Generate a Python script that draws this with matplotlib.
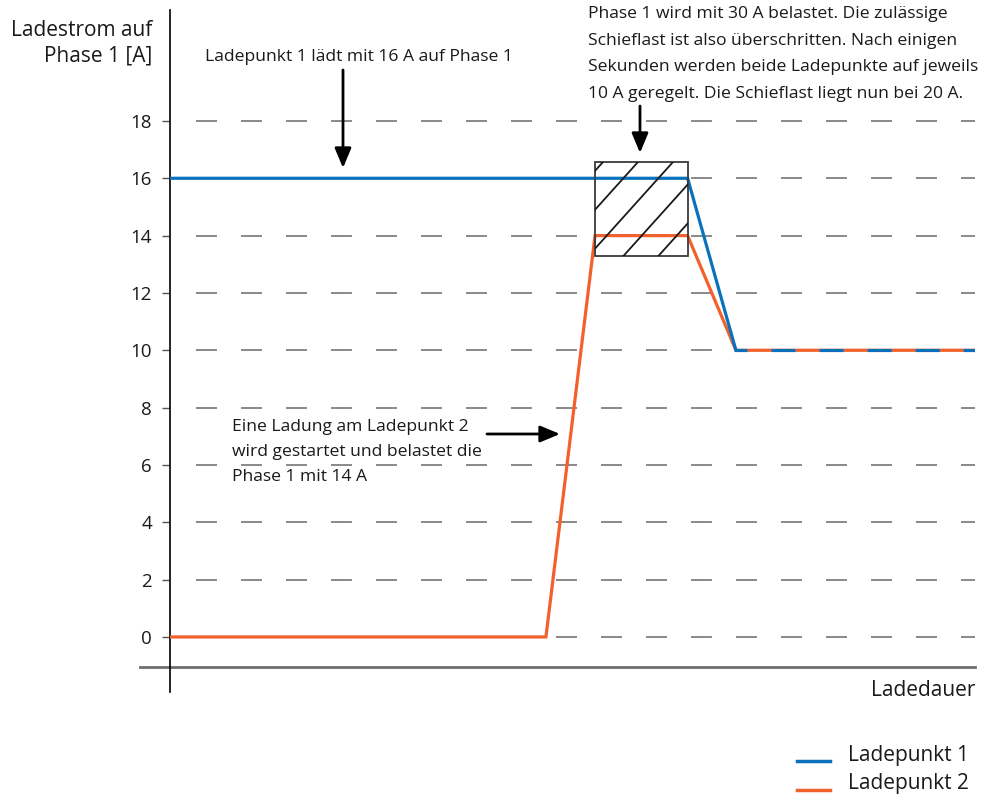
import matplotlib
matplotlib.use("Agg")
import matplotlib.pyplot as plt
import numpy as np
from matplotlib.patches import Rectangle
from matplotlib.transforms import IdentityTransform

plt.rcParams['font.family'] = ['Open Sans', 'DejaVu Sans']
plt.rcParams['lines.scale_dashes'] = False

# data (time in arbitrary units, current in A)
t_lp1 = [0, 64.3, 70.3, 100]
i_lp1 = [16, 16, 10, 10]
t_lp2 = [0, 46.7, 52.8, 64.3, 70.3, 100]
i_lp2 = [0, 0, 14, 14, 10, 10]
y_ticks = [0, 2, 4, 6, 8, 10, 12, 14, 16, 18]
series_names = ['Ladepunkt 1', 'Ladepunkt 2']

blue = '#0a72bd'
orange = '#f2602c'
grid_col = '#6a6a6a'
txt_col = '#1a1a1a'

W, H = 998, 797
fig = plt.figure(figsize=(W / 100, H / 100), dpi=100)


def fx(px):
    return px / W


def fy(py):
    return 1 - py / H


ax = fig.add_axes([fx(170), fy(692), fx(975) - fx(170), fy(10) - fy(692)])
ax.set_xlim(0, 100)
ax.set_ylim(-1.92, 21.87)

for s in ['top', 'right', 'bottom']:
    ax.spines[s].set_visible(False)
ax.spines['left'].set_color('black')
ax.spines['left'].set_linewidth(1.2)
ax.set_xticks([])
ax.set_yticks(y_ticks)
ax.tick_params(axis='y', length=6, width=1, color='#555555', pad=7,
               labelsize=13.5, labelcolor=txt_col)

# dashed grid lines
for yv in y_ticks:
    ax.plot([3.2, 100], [yv, yv], color=grid_col, lw=1.1,
            linestyle=(0, (15.1, 17.3)), zorder=1)

# baseline
ax.plot([-3.73, 100], [-1.05, -1.05], color='#6e6e6e', lw=2, clip_on=False, zorder=1)

# series
ax.plot(t_lp2, i_lp2, color=orange, lw=2.3, zorder=3, solid_joinstyle='miter')
ax.plot(t_lp1[:3], i_lp1[:3], color=blue, lw=2.3, zorder=4, solid_joinstyle='miter')
ax.plot(t_lp1[2:], i_lp1[2:], color=blue, lw=2.3, zorder=4,
        linestyle=(9.4, (17.3, 17.3)))

# hatched box
x0, x1, y0, y1 = 52.8, 64.3, 13.29, 16.57
rect = Rectangle((x0, y0), x1 - x0, y1 - y0, facecolor='none',
                 edgecolor='#3a3a3a', lw=1.3, zorder=5)
ax.add_patch(rect)
(px0, py0), (px1, py1) = ax.transData.transform([(x0, y0), (x1, y1)])
h = py1 - py0
for k in range(-4, 8):
    xs = px0 + 8 + 35 * k
    ln, = ax.plot([xs - h * 0.9, xs], [py0, py1],
                  color='#1a1a1a', lw=1.3, transform=IdentityTransform(), zorder=5)
    ln.set_clip_path(rect)

arrow_kw = dict(arrowstyle='-|>,head_length=1.2,head_width=0.5',
                color='black', lw=2, shrinkA=0, shrinkB=0)

# annotations
ann_size = 12.6
fig.text(fx(205), fy(57), 'Ladepunkt 1 lädt mit 16 A auf Phase 1', fontsize=ann_size,
         va='center', ha='left', color=txt_col)
ax.annotate('', xy=(fx(343), fy(168)), xytext=(fx(343), fy(70)),
            xycoords='figure fraction', textcoords='figure fraction',
            arrowprops=arrow_kw)

top_lines = ['Phase 1 wird mit 30 A belastet. Die zulässige',
             'Schieflast ist also überschritten. Nach einigen',
             'Sekunden werden beide Ladepunkte auf jeweils',
             '10 A geregelt. Die Schieflast liegt nun bei 20 A.']
for n, line in enumerate(top_lines):
    fig.text(fx(588), fy(14 + 26.6 * n), line, fontsize=ann_size,
             va='center', ha='left', color=txt_col)
ax.annotate('', xy=(fx(640), fy(153)), xytext=(fx(640), fy(106)),
            xycoords='figure fraction', textcoords='figure fraction',
            arrowprops=arrow_kw)

mid_lines = ['Eine Ladung am Ladepunkt 2',
             'wird gestartet und belastet die',
             'Phase 1 mit 14 A']
for n, line in enumerate(mid_lines):
    fig.text(fx(232), fy(427 + 25 * n), line, fontsize=ann_size,
             va='center', ha='left', color=txt_col)
ax.annotate('', xy=(fx(560), fy(434)), xytext=(fx(487), fy(434)),
            xycoords='figure fraction', textcoords='figure fraction',
            arrowprops=arrow_kw)

# axis labels
lab_size = 15
fig.text(fx(152), fy(30), 'Ladestrom auf', fontsize=lab_size, ha='right', va='center',
         color=txt_col)
fig.text(fx(152), fy(56), 'Phase 1 [A]', fontsize=lab_size, ha='right', va='center',
         color=txt_col)
fig.text(fx(975), fy(690), 'Ladedauer', fontsize=lab_size, ha='right', va='center',
         color=txt_col)

# legend
for n, (name, col) in enumerate(zip(series_names, [blue, orange])):
    yl = 759 + 29 * n
    fig.add_artist(plt.Line2D([fx(797), fx(830)], [fy(yl + 2), fy(yl + 2)],
                              color=col, lw=2.5))
    fig.text(fx(848), fy(yl - 4), name, fontsize=lab_size, ha='left', va='center',
             color=txt_col)

fig.savefig('out.png', dpi=100)
